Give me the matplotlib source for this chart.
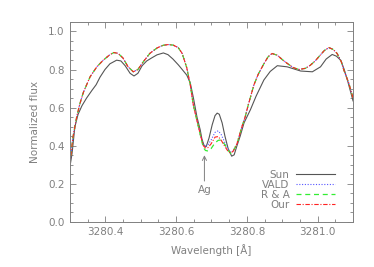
import matplotlib
matplotlib.use("Agg")
import matplotlib.pyplot as plt
from matplotlib.ticker import MultipleLocator

# observed solar spectrum
sun_wl = [3280.300, 3280.306, 3280.314, 3280.323, 3280.334, 3280.347, 3280.362, 3280.374,
          3280.385, 3280.399, 3280.413, 3280.432, 3280.444, 3280.456, 3280.470, 3280.481,
          3280.492, 3280.504, 3280.517, 3280.532, 3280.546, 3280.564, 3280.577, 3280.591,
          3280.606, 3280.611, 3280.630, 3280.640, 3280.649, 3280.659, 3280.668, 3280.673,
          3280.679, 3280.685, 3280.693, 3280.702, 3280.710, 3280.716, 3280.722, 3280.730,
          3280.738, 3280.747, 3280.757, 3280.764, 3280.772, 3280.781, 3280.792, 3280.810,
          3280.826, 3280.848, 3280.866, 3280.886, 3280.914, 3280.952, 3280.985, 3281.008,
          3281.024, 3281.041, 3281.053, 3281.065, 3281.075, 3281.084, 3281.092, 3281.100]
sun_flux = [0.29, 0.36, 0.50, 0.565, 0.61, 0.65, 0.69, 0.72,
            0.76, 0.80, 0.83, 0.849, 0.845, 0.82, 0.78, 0.766,
            0.78, 0.82, 0.845, 0.862, 0.877, 0.887, 0.878, 0.855,
            0.825, 0.814, 0.771, 0.73, 0.65, 0.55, 0.484, 0.435,
            0.40, 0.395, 0.44, 0.51, 0.558, 0.571, 0.565, 0.52,
            0.45, 0.385, 0.345, 0.352, 0.40, 0.45, 0.52, 0.589,
            0.66, 0.745, 0.79, 0.82, 0.814, 0.792, 0.788, 0.814,
            0.855, 0.879, 0.87, 0.849, 0.80, 0.745, 0.69, 0.635]

# synthetic spectra (same grid)
syn_wl = [3280.300, 3280.308, 3280.319, 3280.328, 3280.338, 3280.357, 3280.376, 3280.394,
          3280.413, 3280.424, 3280.436, 3280.450, 3280.464, 3280.479, 3280.492, 3280.507,
          3280.526, 3280.546, 3280.563, 3280.578, 3280.592, 3280.606, 3280.617, 3280.630,
          3280.640, 3280.649, 3280.663, 3280.671, 3280.677, 3280.683, 3280.690, 3280.699,
          3280.710, 3280.719, 3280.727, 3280.738, 3280.747, 3280.754, 3280.761, 3280.772,
          3280.786, 3280.795, 3280.804, 3280.820, 3280.832, 3280.848, 3280.860, 3280.871,
          3280.886, 3280.900, 3280.914, 3280.931, 3280.947, 3280.965, 3280.979, 3280.993,
          3281.007, 3281.019, 3281.032, 3281.044, 3281.055, 3281.067, 3281.074, 3281.088,
          3281.100]
our_flux = [0.30, 0.44, 0.55, 0.62, 0.68, 0.762, 0.814, 0.849,
            0.878, 0.889, 0.885, 0.86, 0.815, 0.788, 0.80, 0.84,
            0.885, 0.913, 0.927, 0.931, 0.928, 0.915, 0.885, 0.81,
            0.72, 0.61, 0.50, 0.44, 0.40, 0.388, 0.39, 0.41,
            0.445, 0.448, 0.43, 0.395, 0.37, 0.362, 0.37, 0.41,
            0.50, 0.55, 0.615, 0.72, 0.775, 0.83, 0.867, 0.884,
            0.875, 0.852, 0.832, 0.81, 0.80, 0.806, 0.822, 0.845,
            0.875, 0.90, 0.915, 0.905, 0.884, 0.84, 0.797, 0.728,
            0.65]
vald_flux = our_flux[:27] + [0.44, 0.405, 0.397, 0.405, 0.43,
                             0.47, 0.478, 0.46, 0.415, 0.38, 0.365, 0.372, 0.41] + our_flux[40:]
ra_flux = our_flux[:27] + [0.435, 0.39, 0.375, 0.372, 0.385,
                           0.415, 0.428, 0.43, 0.405, 0.375, 0.36, 0.37, 0.41] + our_flux[40:]

gray = "#808080"
fig = plt.figure(figsize=(3.74, 2.67), dpi=100)
ax = fig.add_axes([0.187, 0.169, 0.757, 0.749])

ax.plot(sun_wl, sun_flux, color="#555555", lw=0.8, label="Sun")
ax.plot(syn_wl, vald_flux, color="#5555ff", lw=0.8, ls=(0, (1, 1.5)), label="VALD")
ax.plot(syn_wl, ra_flux, color="#33ee33", lw=0.9, ls=(0, (4, 3)), label="R & A")
ax.plot(syn_wl, our_flux, color="#ff2222", lw=0.8, ls=(0, (4, 1.5, 1, 1.5)), label="Our")

ax.annotate("Ag", xy=(3280.68, 0.35), xytext=(3280.68, 0.14), ha="center", va="bottom",
            color=gray, fontsize=7.5,
            arrowprops=dict(arrowstyle="->", color=gray, lw=0.7, shrinkA=1, shrinkB=0))

ax.set_xlim(3280.3, 3281.1)
ax.set_ylim(0.0, 1.05)
ax.xaxis.set_major_locator(MultipleLocator(0.2))
ax.xaxis.set_minor_locator(MultipleLocator(0.05))
ax.yaxis.set_major_locator(MultipleLocator(0.2))
ax.yaxis.set_minor_locator(MultipleLocator(0.05))
ax.set_xticks([3280.4, 3280.6, 3280.8, 3281.0])
ax.set_xticklabels(["3280.4", "3280.6", "3280.8", "3281.0"])
ax.tick_params(which="both", direction="in", top=True, right=True, colors=gray,
               labelsize=7.5, width=0.6)
ax.tick_params(which="major", length=4, pad=4)
ax.tick_params(which="minor", length=2)
for s in ax.spines.values():
    s.set_color(gray)
    s.set_linewidth(0.7)

ax.set_xlabel("Wavelength [Å]", color=gray, fontsize=7.5, labelpad=5)
ax.set_ylabel("Normalized flux", color=gray, fontsize=7.5, labelpad=6)

leg = ax.legend(loc="upper right", bbox_to_anchor=(0.96, 0.29), frameon=False,
                markerfirst=False, alignment="right", fontsize=7.5, handlelength=3.8,
                labelspacing=0.0, borderpad=0.1, handletextpad=0.6, labelcolor=gray)
for t in leg.get_texts():
    t.set_ha("right")

fig.savefig("out.png", dpi=100)
